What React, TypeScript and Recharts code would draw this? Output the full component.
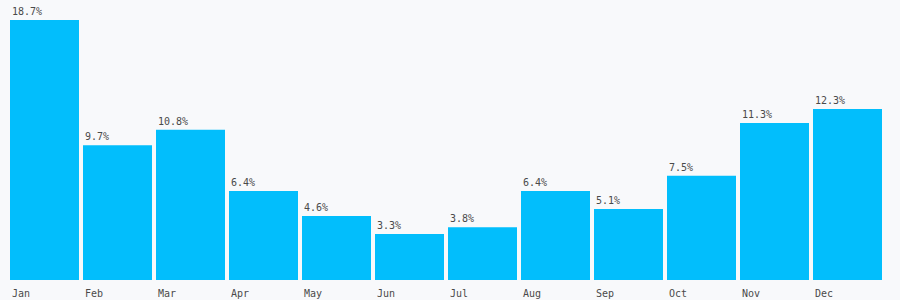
import { BarChart, Bar, XAxis, YAxis, LabelList } from "recharts";

const months = ["Jan", "Feb", "Mar", "Apr", "May", "Jun", "Jul", "Aug", "Sep", "Oct", "Nov", "Dec"];
const shares = [18.7, 9.7, 10.8, 6.4, 4.6, 3.3, 3.8, 6.4, 5.1, 7.5, 11.3, 12.3];

const data = months.map((m, i) => ({ month: m, share: shares[i] }));

const FONT = "'DejaVu Sans Mono', monospace";
const TEXT = "#4a4a4a";

function MonthTick(props: any) {
  const { x, y, payload } = props;
  return (
    <text x={x - 32.5} y={y + 9} fill={TEXT} fontSize={10} fontFamily={FONT}>
      {payload.value}
    </text>
  );
}

function ValueLabel(props: any) {
  const { x, y, value } = props;
  return (
    <text x={x + 2} y={y - 5} fill={TEXT} fontSize={10} fontFamily={FONT}>
      {value.toFixed(1)}%
    </text>
  );
}

export default function App() {
  return (
    <div
      style={{
        position: "absolute",
        left: 0,
        top: 0,
        width: 900,
        height: 300,
        background: "#f8f9fb",
      }}
    >
      <BarChart
        width={900}
        height={300}
        data={data}
        margin={{ top: 20, right: 16, left: 8, bottom: 0 }}
        barCategoryGap={2}
      >
        <XAxis
          dataKey="month"
          height={20}
          axisLine={false}
          tickLine={false}
          interval={0}
          tick={<MonthTick />}
        />
        <YAxis hide domain={[0, "dataMax"]} />
        <Bar dataKey="share" fill="#02befc" isAnimationActive={false}>
          <LabelList dataKey="share" content={<ValueLabel />} />
        </Bar>
      </BarChart>
    </div>
  );
}
